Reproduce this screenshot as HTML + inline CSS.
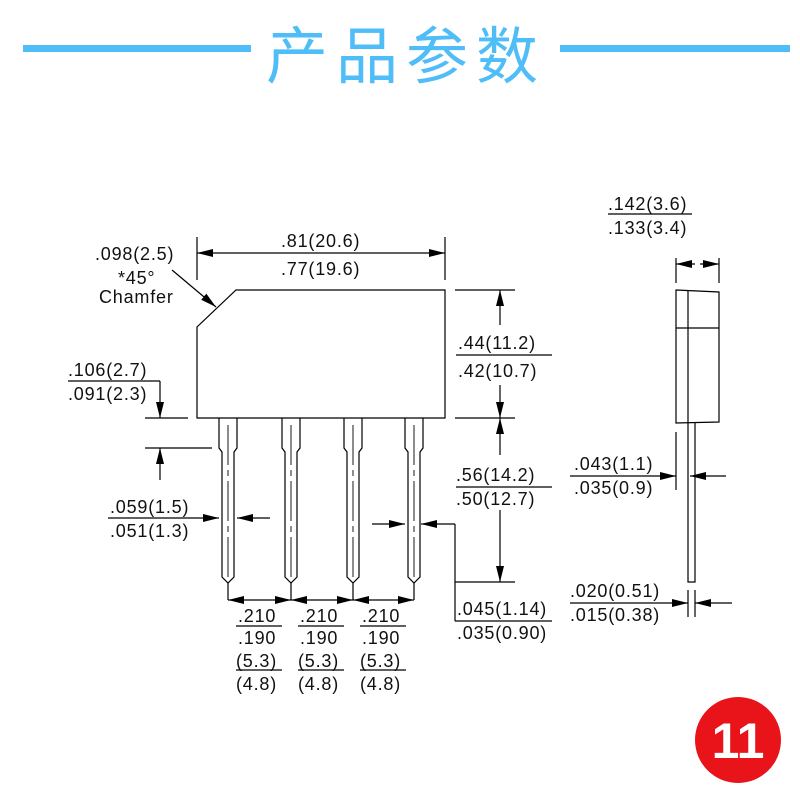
<!DOCTYPE html>
<html><head><meta charset="utf-8"><style>
html,body{margin:0;padding:0;background:#fff;}
svg{display:block;}
text{font-family:"Liberation Sans",Arial,sans-serif;font-size:18px;letter-spacing:0.8px;fill:#111;}
.t{font-family:"Liberation Sans","Noto Sans CJK SC",sans-serif;font-size:62px;letter-spacing:8px;fill:#4fbdf7;}
</style></head><body>
<svg width="800" height="800" viewBox="0 0 800 800" xmlns="http://www.w3.org/2000/svg">
<defs>
<marker id="a" viewBox="0 0 16 8" refX="16" refY="4" markerWidth="16" markerHeight="8" markerUnits="userSpaceOnUse" orient="auto"><path d="M0,0 L16,4 L0,8 z" fill="#000"/></marker>
</defs>
<rect x="23" y="45" width="228" height="7" fill="#4fbdf7"/>
<rect x="560" y="45" width="230" height="7" fill="#4fbdf7"/>
<text class="t" x="266" y="78">产品参数</text>

<g stroke="#000" stroke-width="1.2" fill="none">
<path d="M236,290 L445,290 L445,418 L197,418 L197,327 Z"/>
<g id="ld">
<path d="M219,418 L219,448 L222,452 L222,577 L228,583 L234,577 L234,452 L237,448 L237,418"/>
<path d="M228,425 L228,578" stroke-dasharray="40,5,6,5" stroke-width="0.9"/>
</g>
<use href="#ld" x="63"/>
<use href="#ld" x="125"/>
<use href="#ld" x="186"/>

<line x1="197" y1="237" x2="197" y2="280"/>
<line x1="445" y1="237" x2="445" y2="280"/>
<line x1="230" y1="253" x2="197" y2="253" marker-end="url(#a)"/>
<line x1="410" y1="253" x2="445" y2="253" marker-end="url(#a)"/>
<line x1="230" y1="253" x2="410" y2="253"/>
<line x1="172" y1="270" x2="216" y2="307" marker-end="url(#a)"/>

<line x1="455" y1="290" x2="515" y2="290"/>
<line x1="455" y1="418" x2="515" y2="418"/>
<line x1="455" y1="582" x2="515" y2="582"/>
<line x1="500" y1="325" x2="500" y2="290" marker-end="url(#a)"/>
<line x1="500" y1="385" x2="500" y2="418" marker-end="url(#a)"/>
<line x1="500" y1="455" x2="500" y2="418" marker-end="url(#a)"/>
<line x1="500" y1="510" x2="500" y2="582" marker-end="url(#a)"/>
<line x1="456" y1="355" x2="552" y2="355"/>
<line x1="456" y1="487" x2="552" y2="487"/>

<line x1="68" y1="381" x2="160" y2="381"/>
<line x1="160" y1="381" x2="160" y2="418" marker-end="url(#a)"/>
<line x1="160" y1="480" x2="160" y2="448" marker-end="url(#a)"/>
<line x1="145" y1="418" x2="188" y2="418"/>
<line x1="145" y1="448" x2="212" y2="448"/>

<line x1="108" y1="518" x2="219" y2="518" marker-end="url(#a)"/>
<line x1="270" y1="518" x2="237" y2="518" marker-end="url(#a)"/>

<line x1="372" y1="524" x2="405" y2="524" marker-end="url(#a)"/>
<line x1="455" y1="524" x2="421" y2="524" marker-end="url(#a)"/>
<line x1="455" y1="524" x2="455" y2="621"/>
<line x1="455" y1="621" x2="552" y2="621"/>

<line x1="228" y1="583" x2="228" y2="600"/>
<line x1="291" y1="583" x2="291" y2="600"/>
<line x1="353" y1="583" x2="353" y2="600"/>
<line x1="414" y1="583" x2="414" y2="600"/>
<line x1="258" y1="600" x2="228" y2="600" marker-end="url(#a)"/>
<line x1="258" y1="600" x2="291" y2="600" marker-end="url(#a)"/>
<line x1="322" y1="600" x2="291" y2="600" marker-end="url(#a)"/>
<line x1="322" y1="600" x2="353" y2="600" marker-end="url(#a)"/>
<line x1="383" y1="600" x2="353" y2="600" marker-end="url(#a)"/>
<line x1="383" y1="600" x2="414" y2="600" marker-end="url(#a)"/>
<line x1="236" y1="626" x2="282" y2="626"/><line x1="236" y1="670" x2="282" y2="670"/>
<line x1="298" y1="626" x2="344" y2="626"/><line x1="298" y1="670" x2="344" y2="670"/>
<line x1="360" y1="626" x2="406" y2="626"/><line x1="360" y1="670" x2="406" y2="670"/>

<path d="M676,290 L719,292 L719,422 L676,423 Z"/>
<line x1="688" y1="290" x2="688" y2="423"/>
<line x1="676" y1="328" x2="719" y2="328"/>
<path d="M688,423 L688,582 L695,582 L695,423"/>
<line x1="676" y1="258" x2="676" y2="283"/>
<line x1="719" y1="258" x2="719" y2="283"/>
<line x1="695" y1="264" x2="676" y2="264" marker-end="url(#a)"/>
<line x1="700" y1="264" x2="719" y2="264" marker-end="url(#a)"/>
<line x1="608" y1="214" x2="692" y2="214"/>
<line x1="676" y1="432" x2="676" y2="490"/>
<line x1="570" y1="476" x2="676" y2="476" marker-end="url(#a)"/>
<line x1="726" y1="476" x2="690" y2="476" marker-end="url(#a)"/>
<line x1="688" y1="590" x2="688" y2="617"/>
<line x1="695" y1="590" x2="695" y2="617"/>
<line x1="570" y1="603" x2="688" y2="603" marker-end="url(#a)"/>
<line x1="732" y1="603" x2="695" y2="603" marker-end="url(#a)"/>
</g>

<text x="281" y="247">.81(20.6)</text>
<text x="281" y="275">.77(19.6)</text>
<text x="95" y="260">.098(2.5)</text>
<text x="118" y="284">*45°</text>
<text x="99" y="303">Chamfer</text>
<text x="458" y="349">.44(11.2)</text>
<text x="458" y="377">.42(10.7)</text>
<text x="68" y="376">.106(2.7)</text>
<text x="68" y="400">.091(2.3)</text>
<text x="456" y="481">.56(14.2)</text>
<text x="456" y="505">.50(12.7)</text>
<text x="110" y="513">.059(1.5)</text>
<text x="110" y="537">.051(1.3)</text>
<text x="457" y="615">.045(1.14)</text>
<text x="457" y="639">.035(0.90)</text>
<g>
<text x="238" y="622">.210</text><text x="238" y="644">.190</text><text x="236" y="667">(5.3)</text><text x="236" y="690">(4.8)</text>
<text x="300" y="622">.210</text><text x="300" y="644">.190</text><text x="298" y="667">(5.3)</text><text x="298" y="690">(4.8)</text>
<text x="362" y="622">.210</text><text x="362" y="644">.190</text><text x="360" y="667">(5.3)</text><text x="360" y="690">(4.8)</text>
</g>
<text x="608" y="210">.142(3.6)</text>
<text x="608" y="234">.133(3.4)</text>
<text x="574" y="470">.043(1.1)</text>
<text x="574" y="494">.035(0.9)</text>
<text x="570" y="597">.020(0.51)</text>
<text x="570" y="621">.015(0.38)</text>

<circle cx="738" cy="740" r="43" fill="#e8141a"/>
<text x="738" y="758" text-anchor="middle" style="font-family:'Liberation Sans',sans-serif;font-weight:bold;font-size:50px;letter-spacing:0;fill:#fff">11</text>
</svg>
</body></html>
